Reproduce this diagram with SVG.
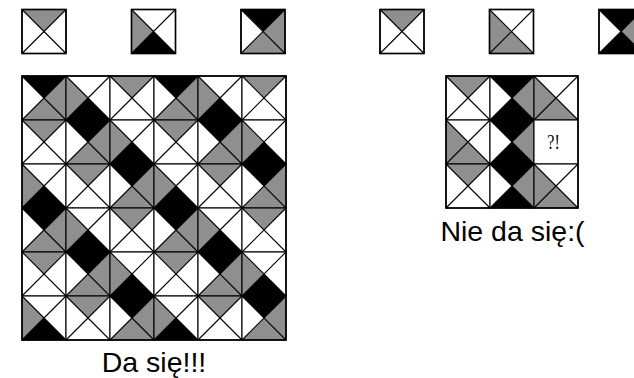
<svg xmlns="http://www.w3.org/2000/svg" xmlns:xlink="http://www.w3.org/1999/xlink" width="634" height="378" viewBox="0 0 634 378">
<style>
.g{fill:#8f8f8f}
.k{fill:#000}
.w{fill:#fff}
.ln{stroke:#000;stroke-width:1.1;fill:none}
.bd{stroke:#000;stroke-width:1.6;fill:none}
.lbl{font-family:"Liberation Sans",Arial,sans-serif;font-size:28.5px;fill:#000;text-anchor:middle}
.q{font-family:"Liberation Serif","Times New Roman",serif;font-size:20px;fill:#000;text-anchor:middle}
</style>
<defs>
<g id="diag">
<path class="ln" d="M0,0L44,44M44,0L0,44"/>
<rect class="ln" x="0" y="0" width="44" height="44"/>
</g>
<!-- tile A: top gray -->
<g id="tA">
<polygon class="g" points="0,0 44,0 22,22"/>
<polygon class="w" points="44,0 44,44 22,22"/>
<polygon class="w" points="0,44 44,44 22,22"/>
<polygon class="w" points="0,0 0,44 22,22"/>
<use xlink:href="#diag"/>
</g>
<!-- tile B: left gray, bottom black -->
<g id="tB">
<polygon class="w" points="0,0 44,0 22,22"/>
<polygon class="w" points="44,0 44,44 22,22"/>
<polygon class="k" points="0,44 44,44 22,22"/>
<polygon class="g" points="0,0 0,44 22,22"/>
<use xlink:href="#diag"/>
</g>
<!-- tile C: top black, right gray, bottom gray -->
<g id="tC">
<polygon class="k" points="0,0 44,0 22,22"/>
<polygon class="g" points="44,0 44,44 22,22"/>
<polygon class="g" points="0,44 44,44 22,22"/>
<polygon class="w" points="0,0 0,44 22,22"/>
<use xlink:href="#diag"/>
</g>
<!-- tile D: left gray, bottom gray -->
<g id="tD">
<polygon class="w" points="0,0 44,0 22,22"/>
<polygon class="w" points="44,0 44,44 22,22"/>
<polygon class="g" points="0,44 44,44 22,22"/>
<polygon class="g" points="0,0 0,44 22,22"/>
<use xlink:href="#diag"/>
</g>
<!-- tile E: top black, right gray, bottom black -->
<g id="tE">
<polygon class="k" points="0,0 44,0 22,22"/>
<polygon class="g" points="44,0 44,44 22,22"/>
<polygon class="k" points="0,44 44,44 22,22"/>
<polygon class="w" points="0,0 0,44 22,22"/>
<use xlink:href="#diag"/>
</g>
</defs>

<g id="tiles-top">
<g id="set1-tile1"><use xlink:href="#tA" x="22" y="9.5"/><rect class="bd" x="22" y="9.5" width="44" height="44"/></g>
<g id="set1-tile2"><use xlink:href="#tB" x="131.5" y="9.5"/><rect class="bd" x="131.5" y="9.5" width="44" height="44"/></g>
<g id="set1-tile3"><use xlink:href="#tC" x="241" y="9.5"/><rect class="bd" x="241" y="9.5" width="44" height="44"/></g>
<g id="set2-tile1"><use xlink:href="#tA" x="380" y="9.5"/><rect class="bd" x="380" y="9.5" width="44" height="44"/></g>
<g id="set2-tile2"><use xlink:href="#tD" x="489.5" y="9.5"/><rect class="bd" x="489.5" y="9.5" width="44" height="44"/></g>
<g id="set2-tile3"><use xlink:href="#tE" x="599" y="9.5"/><rect class="bd" x="599" y="9.5" width="44" height="44"/></g>
</g>

<g id="big-grid">
<use xlink:href="#tC" x="22" y="76"/><use xlink:href="#tB" x="66" y="76"/><use xlink:href="#tA" x="110" y="76"/><use xlink:href="#tC" x="154" y="76"/><use xlink:href="#tB" x="198" y="76"/><use xlink:href="#tA" x="242" y="76"/>
<use xlink:href="#tA" x="22" y="120"/><use xlink:href="#tC" x="66" y="120"/><use xlink:href="#tB" x="110" y="120"/><use xlink:href="#tA" x="154" y="120"/><use xlink:href="#tC" x="198" y="120"/><use xlink:href="#tB" x="242" y="120"/>
<use xlink:href="#tB" x="22" y="164"/><use xlink:href="#tA" x="66" y="164"/><use xlink:href="#tC" x="110" y="164"/><use xlink:href="#tB" x="154" y="164"/><use xlink:href="#tA" x="198" y="164"/><use xlink:href="#tC" x="242" y="164"/>
<use xlink:href="#tC" x="22" y="208"/><use xlink:href="#tB" x="66" y="208"/><use xlink:href="#tA" x="110" y="208"/><use xlink:href="#tC" x="154" y="208"/><use xlink:href="#tB" x="198" y="208"/><use xlink:href="#tA" x="242" y="208"/>
<use xlink:href="#tA" x="22" y="252"/><use xlink:href="#tC" x="66" y="252"/><use xlink:href="#tB" x="110" y="252"/><use xlink:href="#tA" x="154" y="252"/><use xlink:href="#tC" x="198" y="252"/><use xlink:href="#tB" x="242" y="252"/>
<use xlink:href="#tB" x="22" y="296"/><use xlink:href="#tA" x="66" y="296"/><use xlink:href="#tC" x="110" y="296"/><use xlink:href="#tB" x="154" y="296"/><use xlink:href="#tA" x="198" y="296"/><use xlink:href="#tC" x="242" y="296"/>
<rect class="bd" x="22" y="76" width="264" height="264"/>
</g>

<g id="small-grid">
<use xlink:href="#tA" x="446" y="76"/><use xlink:href="#tE" x="490" y="76"/><use xlink:href="#tD" x="534" y="76"/>
<use xlink:href="#tD" x="446" y="120"/><use xlink:href="#tE" x="490" y="120"/>
<g id="missing-cell"><rect class="w" x="534" y="120" width="44" height="44"/><rect class="ln" x="534" y="120" width="44" height="44"/><text class="q" x="553.5" y="148.5" textLength="12.5" lengthAdjust="spacingAndGlyphs">?!</text></g>
<use xlink:href="#tA" x="446" y="164"/><use xlink:href="#tE" x="490" y="164"/><use xlink:href="#tD" x="534" y="164"/>
<rect class="bd" x="446" y="76" width="132" height="132"/>
</g>

<g id="labels">
<text class="lbl" x="154" y="372">Da się!!!</text>
<text class="lbl" x="512.5" y="240.5">Nie da się:(</text>
</g>
</svg>
